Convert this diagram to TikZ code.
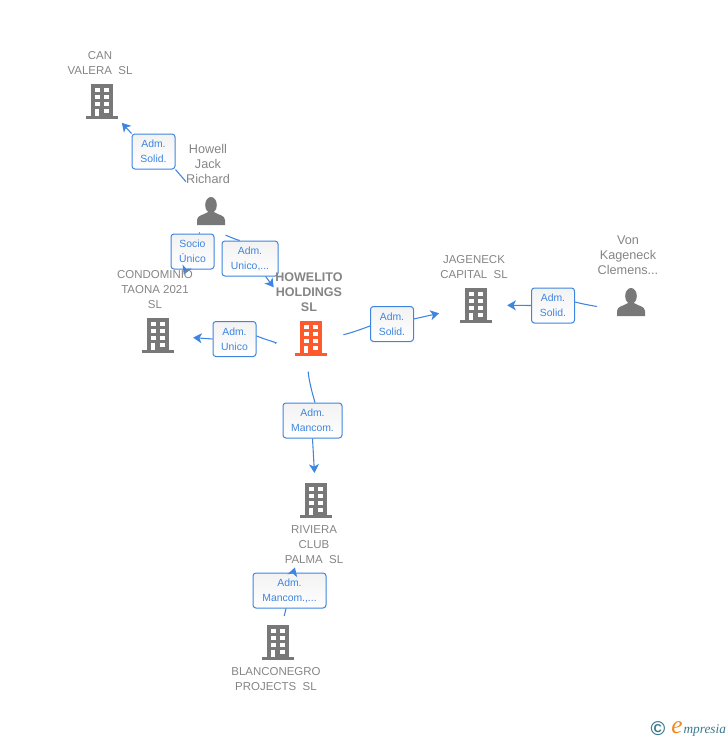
\documentclass[tikz,border=0pt]{standalone}
\usepackage{fontspec}
\setmainfont{Liberation Sans}
\newfontfamily\logofont{Liberation Serif}
\usetikzlibrary{arrows.meta}
\definecolor{linkblue}{HTML}{3D85E0}
\definecolor{labelgray}{HTML}{858585}
\definecolor{icongray}{HTML}{787878}
\definecolor{iconorange}{HTML}{FF5A2B}
\definecolor{logoteal}{HTML}{3A7A8C}
\definecolor{logoorange}{HTML}{F08A1D}

\begin{document}
\begin{tikzpicture}[x=0.75pt,y=-0.75pt,->,>={Stealth[length=6.5pt,width=7.5pt,inset=1.8pt]},line width=0.8pt,
  link/.style={color=linkblue},
  role/.style={draw=linkblue,rounded corners=2.2pt,line width=0.75pt,top color=black!5,bottom color=white,text=linkblue,
    align=center,inner sep=0pt,minimum height=26.25pt,font={\fontsize{7.8}{11.25}\selectfont},
    execute at begin node={\rule{0pt}{7pt}}},
  nameof/.style={text=labelgray,align=center,inner sep=0pt,font={\fontsize{8.6}{11.25}\selectfont}},
  personof/.style={nameof,font={\fontsize{9.5}{11.25}\selectfont}},
  icon/.style={circle,inner sep=0pt,minimum size=24pt},
  pics/building/.style={code={
    \fill[pic actions] (-11,-17) rectangle (11,15);
    \fill[pic actions] (-16,15) rectangle (16,17.5);
    \foreach \wx in {-7.5,2.2} \foreach \wy in {-13,-6,1.2}
      \fill[white] (\wx,\wy) rectangle +(5.2,4);
    \fill[white] (-7.5,7.5) rectangle (-2.8,15);
    \fill[white] (2.2,7.5) rectangle (7.4,11.5);
  }},
  pics/person/.style={code={
    \fill[pic actions] (0,-6) ellipse (5.8 and 8);
    \fill[pic actions] (-14,14) -- (-14,9) .. controls (-14,4) and (-7,4) .. (-3,1) -- (3,1) .. controls (7,4) and (14,4) .. (14,9) -- (14,14) -- cycle;
  }}]
\useasboundingbox (0,0) rectangle (728,740);
% icons
\node[icon] (can) at (102,101) {};
\node[icon] (cond) at (158,335) {};
\node[icon] (howell) at (211,211) {};
\node[icon] (howelito) at (311,338) {};
\node[icon] (jag) at (476,305) {};
\node[icon] (von) at (631,302) {};
\node[icon] (riv) at (316,500) {};
\node[icon] (blanco) at (278,642) {};
\pic[fill=icongray] at (can) {building};
\pic[fill=icongray] at (cond) {building};
\pic[fill=icongray] at (jag) {building};
\pic[fill=icongray] at (riv) {building};
\pic[fill=icongray] at (blanco) {building};
\pic[fill=iconorange] at (howelito) {building};
\pic[fill=icongray] at (howell) {person};
\pic[fill=icongray] at (von) {person};
% roles
\node[role,minimum width=32.25pt] (r1) at (153.5,151.5) {Adm.\\Solid.};
\node[role,minimum width=32.25pt] (r2) at (192.5,251.5) {Socio\\Único};
\node[role,minimum width=42pt] (r3) at (250,258.5) {Adm.\\Unico,...};
\node[role,minimum width=32.25pt] (r4) at (234.5,339) {Adm.\\Unico};
\node[role,minimum width=32.25pt] (r5) at (392,324) {Adm.\\Solid.};
\node[role,minimum width=32.25pt] (r6) at (553,305.5) {Adm.\\Solid.};
\node[role,minimum width=44.25pt] (r7) at (312.5,420.5) {Adm.\\Mancom.};
\node[role,minimum width=54.75pt] (r8) at (289.5,590.5) {Adm.\\Mancom.,...};
% connectors
\path[link] (howell) edge[-,shorten <=16.5pt] (r1.south east)
(r1.north west) edge[shorten >=9.75pt] (can)
(howell) edge[-,shorten <=5.8pt] (r2.70)
(r2.250) edge[shorten >=36.9pt] (cond)
(howell) edge[-,bend right=18,shorten <=9.5pt] (r3.120)
(r3.311) edge[shorten >=34.8pt] (howelito)
(howelito) edge[-,bend left=14,shorten <=15pt] (r4.8)
(r4.west) edge[shorten >=14pt] (cond)
(howelito) edge[-,bend right=7,shorten <=12pt] (r5.185)
(r5.13) edge[shorten >=16pt] (jag)
(von) edge[-,bend left=10,shorten <=13.6pt] (r6.9)
(r6.west) edge[shorten >=11pt] (jag)
(howelito) edge[-,bend right=10,shorten <=13pt] (r7.82)
(r7.south) edge[shorten >=8pt] (riv)
(blanco) edge[-,shorten <=7.7pt] (r8.259)
(r8.78) edge[shorten >=40.6pt] (riv);
% names
\node[nameof] (ncan) at (100,63.5) {CAN\\VALERA\ \ SL};
\node[personof] (nhowell) at (208,163.5) {Howell\\Jack\\Richard};
\node[nameof] (ncond) at (155,290) {CONDOMINIO\\TAONA 2021\\SL};
\node[nameof,font={\fontsize{9.4}{11.25}\selectfont\bfseries}] (nhowelito) at (309,292.5) {HOWELITO\\HOLDINGS\\SL};
\node[nameof] (njag) at (474,267.5) {JAGENECK\\CAPITAL\ \ SL};
\node[personof] (nvon) at (628,255.5) {Von\\Kageneck\\Clemens...};
\node[nameof] (nriv) at (314,545) {RIVIERA\\CLUB\\PALMA\ \ SL};
\node[nameof] (nblanco) at (276,679.5) {BLANCONEGRO\\PROJECTS\ \ SL};
% logo
\node[text=logoteal,inner sep=0pt,font=\fontsize{15}{15}\selectfont\bfseries] (logoc) at (658,729) {©};
\node[text=logoorange,inner sep=0pt,font={\logofont\itshape\fontsize{19}{19}\selectfont}] (logoe) at (677,728) {e};
\node[text=logoteal,inner sep=0pt,anchor=base west,font={\logofont\itshape\fontsize{10}{10}\selectfont}] (logot) at (683,733) {mpresia};
\end{tikzpicture}
\end{document}
